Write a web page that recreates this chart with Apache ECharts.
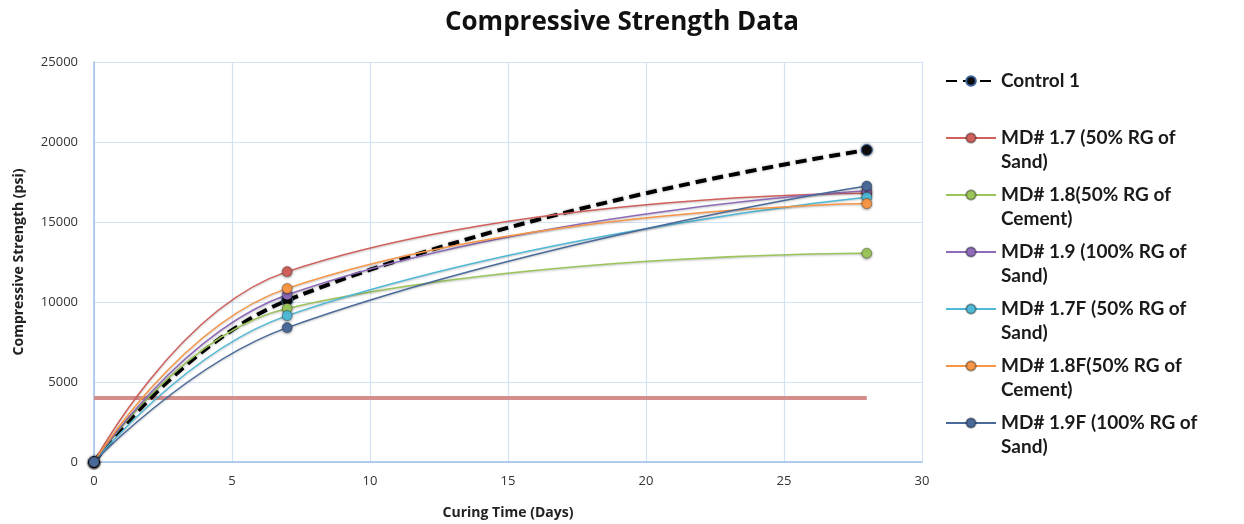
<!DOCTYPE html>
<html>
<head>
<meta charset="utf-8">
<script src="https://cdn.jsdelivr.net/npm/echarts@6/dist/echarts.min.js"></script>
<style>
  html, body { margin: 0; padding: 0; background: #fff; }
  #chart { width: 1244px; height: 524px; }
</style>
</head>
<body>
<div id="chart"></div>
<script>
// curing days
const days = [0, 7, 28]
const xTicks = [0, 5, 10, 15, 20, 25, 30]
const yTicks = [0, 5000, 10000, 15000, 20000, 25000]

// series values (psi)
const control1 = [0, 10100, 19500]
const md17 = [0, 11900, 16800]
const md18 = [0, 9600, 13050]
const md19 = [0, 10450, 16950]
const md17F = [0, 9150, 16550]
const md18F = [0, 10850, 16150]
const md19F = [0, 8400, 17250]

// reference line
const refDays = [0, 28]
const refValue = [4000, 4000]

const names = [
  'Control 1',
  'MD# 1.7 (50% RG of Sand)',
  'MD# 1.8(50% RG of Cement)',
  'MD# 1.9 (100% RG of Sand)',
  'MD# 1.7F (50% RG of Sand)',
  'MD# 1.8F(50% RG of Cement)',
  'MD# 1.9F (100% RG of Sand)'
]
const legendText = {
  'Control 1': '\nControl 1\n',
  'MD# 1.7 (50% RG of Sand)': '\nMD# 1.7 (50% RG of\nSand)',
  'MD# 1.8(50% RG of Cement)': '\nMD# 1.8(50% RG of\nCement)',
  'MD# 1.9 (100% RG of Sand)': '\nMD# 1.9 (100% RG of\nSand)',
  'MD# 1.7F (50% RG of Sand)': '\nMD# 1.7F (50% RG of\nSand)',
  'MD# 1.8F(50% RG of Cement)': '\nMD# 1.8F(50% RG of\nCement)',
  'MD# 1.9F (100% RG of Sand)': '\nMD# 1.9F (100% RG of\nSand)'
}
const colors = ['#111111', '#d0605b', '#9bc45a', '#8d6bb8', '#4fb9d6', '#f79646', '#4a6a9a']

const pair = (xs, ys) => xs.map((x, i) => [x, ys[i]])

const c = echarts.init(document.getElementById('chart'))

const mdSeries = [md17, md18, md19, md17F, md18F, md19F].map((vals, i) => ({
  name: names[i + 1],
  type: 'line',
  data: pair(days, vals),
  smooth: 0.45,
  symbol: 'circle',
  symbolSize: 10,
  lineStyle: { width: 1.5, color: colors[i + 1], shadowBlur: 2, shadowColor: 'rgba(0,0,0,0.25)', shadowOffsetY: 1 },
  itemStyle: { color: colors[i + 1], borderColor: 'rgba(0,0,0,0.35)', borderWidth: 0.8, shadowBlur: 3, shadowColor: 'rgba(0,0,0,0.45)', shadowOffsetY: 1 },
  z: 3
}))

c.setOption({
  animation: false,
  textStyle: { fontFamily: 'Lato, "Open Sans", sans-serif' },
  title: {
    text: 'Compressive Strength Data',
    left: 'center',
    top: 5,
    textStyle: { fontFamily: '"Open Sans", sans-serif', fontSize: 26, fontWeight: 'bold', color: '#111' }
  },
  legend: {
    orient: 'vertical',
    left: 940,
    top: 40,
    itemGap: -15,
    itemWidth: 50,
    itemHeight: 12,
    data: names,
    formatter: (n) => legendText[n],
    textStyle: { fontSize: 19, lineHeight: 24, fontWeight: 'bold', color: '#1a1a1a' }
  },
  grid: { left: 94, right: 322, top: 62, bottom: 62, outerBoundsMode: 'none', containLabel: false },
  xAxis: {
    type: 'value',
    min: 0,
    max: 30,
    interval: 5,
    name: 'Curing Time (Days)',
    nameLocation: 'middle',
    nameGap: 44,
    nameTextStyle: { fontFamily: '"Open Sans", sans-serif', fontSize: 14, fontWeight: 'bold', color: '#222' },
    axisLine: { lineStyle: { color: '#9fc0e6', width: 1.5 } },
    axisTick: { show: false },
    axisLabel: { fontFamily: '"Open Sans", sans-serif', fontSize: 13, color: '#333', margin: 13, customValues: xTicks },
    splitLine: { lineStyle: { color: '#d3e2f4', width: 1.2 } }
  },
  yAxis: {
    type: 'value',
    min: 0,
    max: 25000,
    interval: 5000,
    name: 'Compressive Strength (psi)',
    nameLocation: 'middle',
    nameGap: 68,
    nameTextStyle: { fontFamily: '"Open Sans", sans-serif', fontSize: 14, fontWeight: 'bold', color: '#222' },
    axisLine: { show: true, lineStyle: { color: '#9fc0e6', width: 1.5 } },
    axisTick: { show: false },
    axisLabel: { fontFamily: '"Open Sans", sans-serif', fontSize: 13, color: '#333', margin: 16, customValues: yTicks, formatter: (v) => String(v) },
    splitLine: { lineStyle: { color: '#d3e2f4', width: 1.2 } }
  },
  series: [
    {
      name: 'Target',
      type: 'line',
      data: pair(refDays, refValue),
      symbol: 'none',
      lineStyle: { width: 4, color: '#d38e8c' },
      z: 2
    },
    {
      name: names[0],
      type: 'line',
      data: pair(days, control1),
      smooth: 0.45,
      symbol: 'circle',
      symbolSize: 11,
      lineStyle: { width: 4, color: '#000', type: [11, 6], shadowBlur: 3, shadowColor: 'rgba(0,0,0,0.3)' },
      itemStyle: { color: '#0d0d0d', borderColor: '#3a5f9a', borderWidth: 1, shadowBlur: 3, shadowColor: 'rgba(0,0,0,0.5)' },
      z: 3
    },
    ...mdSeries
  ]
})
</script>
</body>
</html>
